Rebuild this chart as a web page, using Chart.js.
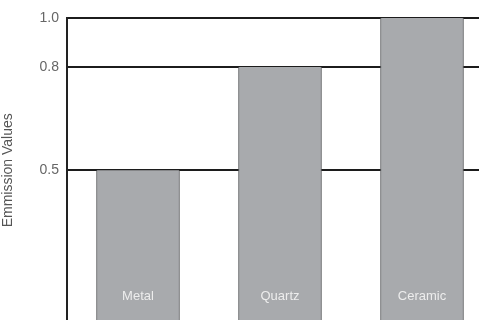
<!DOCTYPE html>
<html>
<head>
<meta charset="utf-8">
<script src="https://cdn.jsdelivr.net/npm/chart.js@4"></script>
<style>
  html, body { margin: 0; padding: 0; background: #fff; overflow: hidden; }
  #wrap { position: absolute; left: 0; top: 0; width: 493px; height: 339px; }
</style>
</head>
<body>
<div id="wrap"><canvas id="chartEmission"></canvas></div>
<script>
// --- DATA ---
const materials = ['Metal', 'Quartz', 'Ceramic'];
const emissionValues = [0.5, 0.8, 1.0];
const yTickValues = [0.5, 0.8, 1.0];

// writes each material name near the bottom of its bar
const barLabels = {
    id: 'barLabels',
    afterDatasetsDraw(chart) {
        const ctx = chart.ctx;
        const meta = chart.getDatasetMeta(0);
        ctx.save();
        ctx.font = '13px "Liberation Sans", Arial, sans-serif';
        ctx.fillStyle = '#ededed';
        ctx.textAlign = 'center';
        ctx.textBaseline = 'alphabetic';
        meta.data.forEach((bar, i) => {
            ctx.fillText(materials[i], bar.x, 300);
        });
        ctx.restore();
    }
};

const ctx = document.getElementById('chartEmission').getContext('2d');
new Chart(ctx, {
    type: 'bar',
    data: {
        labels: materials,
        datasets: [{
            data: emissionValues,
            backgroundColor: '#a8aaad',
            borderColor: '#5e5f61',
            borderWidth: { left: 1, right: 1, top: 0, bottom: 0 },
            borderSkipped: false,
            barThickness: 83
        }]
    },
    options: {
        responsive: true,
        maintainAspectRatio: false,
        animation: false,
        layout: { padding: { top: 18, right: 0, bottom: 0, left: 0 } },
        plugins: { legend: { display: false }, tooltip: { enabled: false } },
        scales: {
            x: { display: false },
            y: {
                type: 'logarithmic',
                min: 0.254,
                max: 1.0,
                afterBuildTicks: (scale) => {
                    scale.ticks = yTickValues.map(v => ({ value: v }));
                },
                afterFit: (scale) => { scale.width = 67; },
                border: { display: true, color: '#222', width: 2 },
                grid: { color: '#1c1c1c', lineWidth: 2, drawTicks: false },
                ticks: {
                    padding: 8,
                    color: '#666',
                    font: { family: '"Liberation Sans", Arial, sans-serif', size: 14 },
                    callback: (v) => Number(v).toFixed(1)
                },
                title: {
                    display: true,
                    text: 'Emmission Values',
                    color: '#555',
                    padding: { top: 0, bottom: 6 },
                    font: { family: '"Liberation Sans", Arial, sans-serif', size: 14 }
                }
            }
        }
    },
    plugins: [barLabels]
});
</script>
</body>
</html>
